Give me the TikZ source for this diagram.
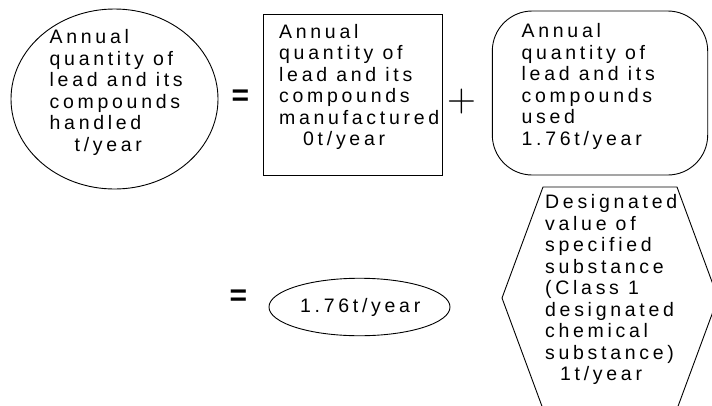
\documentclass[tikz,border=0pt]{standalone}
\usepackage{fontspec}
\setmainfont{Liberation Sans}
\usetikzlibrary{shapes.geometric}
\newfontfamily\trackedfont[LetterSpace=19]{Liberation Sans}
\newfontfamily\plusfont{Latin Modern Roman}
\tikzset{
  shapeline/.style={draw=black, line width=0.9pt},
  bodytext/.style={anchor=north west, inner sep=0pt, align=left,
    font=\trackedfont\fontsize{19.5pt}{21.5pt}\selectfont},
  opsign/.style={inner sep=0pt, font=\fontsize{30pt}{30pt}\selectfont\bfseries},
}
\begin{document}
\begin{tikzpicture}[x=1pt, y=-1pt]
  \useasboundingbox (0,0) rectangle (712,405);
  \clip (0,0) rectangle (712,405);

  % total quantity handled
  \node[shapeline, ellipse, inner sep=0pt, minimum width=207pt, minimum height=180pt]
    (handled) at (114.5,99) {};
  \node[bodytext] (handledtext) at (49.5,29.5)
    {Annual\\quantity of\\lead and its\\compounds\\handled\\\hspace*{25pt}t/year};

  \node[opsign] (eqa) at (240.5,98) {=};

  % quantity manufactured
  \node[shapeline, rectangle, inner sep=0pt, minimum width=179pt, minimum height=161.4pt]
    (manuf) at (352.8,95) {};
  \node[bodytext] (manuftext) at (279,24)
    {Annual\\quantity of\\lead and its\\compounds\\manufactured\\\hspace*{24pt}0t/year};

  \node[inner sep=0pt, font=\plusfont\fontsize{40pt}{40pt}\selectfont] (plus) at (461.7,101.5) {+};

  % quantity used
  \node[shapeline, rectangle, rounded corners=40pt, inner sep=0pt,
    minimum width=215.4pt, minimum height=164pt] (used) at (600,93) {};
  \node[bodytext] (usedtext) at (521.5,23.3)
    {Annual\\quantity of\\lead and its\\compounds\\used\\1.76t/year};

  % result
  \node[opsign] (eqb) at (238.5,297.5) {=};
  \node[shapeline, ellipse, inner sep=0pt, minimum width=181pt, minimum height=57.5pt]
    (result) at (359.5,307) {};
  \node[bodytext] (resulttext) at (300,298.5) {1.76t/year};

  % designated value
  \coordinate (hxa) at (543,187);
  \coordinate (hxb) at (677,187);
  \coordinate (hxc) at (718,298);
  \coordinate (hxd) at (677,409);
  \coordinate (hxe) at (543,409);
  \coordinate (hxf) at (502,298);
  \draw[shapeline, line join=miter] (hxa) -- (hxb) -- (hxc) -- (hxd) -- (hxe) -- (hxf) -- cycle;
  \node[bodytext] (designtext) at (545,194.3)
    {Designated\\value of\\specified\\substance\\(Class 1\\designated\\chemical\\substance)\\\hspace*{15pt}1t/year};
\end{tikzpicture}
\end{document}
